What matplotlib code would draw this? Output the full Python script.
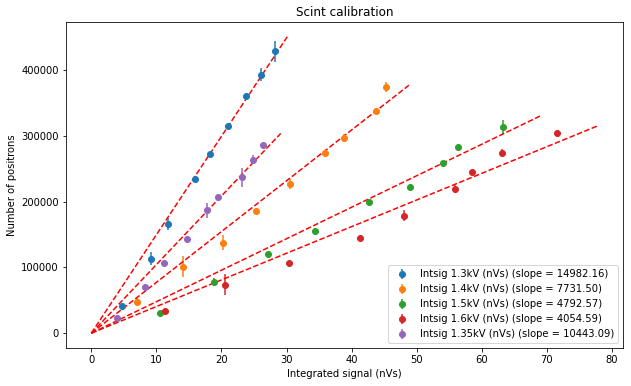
import numpy as np
import matplotlib
matplotlib.use('Agg')
import matplotlib.pyplot as plt

labels = ['Intsig 1.3kV (nVs)', 'Intsig 1.4kV (nVs)', 'Intsig 1.5kV (nVs)',
          'Intsig 1.6kV (nVs)', 'Intsig 1.35kV (nVs)']
slopes = [14982.16, 7731.50, 4792.57, 4054.59, 10443.09]
fit_xmax = [30.1, 48.8, 69.0, 77.8, 29.1]

x_13 = [4.77, 9.1, 11.85, 15.9, 18.25, 21.0, 23.7, 26.0, 28.2]
y_13 = [41800, 113000, 166000, 235000, 272700, 315600, 361000, 393000, 429000]
e_13 = [3000, 10000, 9000, 3000, 3000, 3000, 3000, 10000, 15700]

x_14 = [7.0, 14.05, 20.2, 25.3, 30.6, 35.9, 38.8, 43.7, 45.2]
y_14 = [47900, 101000, 137900, 185300, 227000, 274000, 297000, 338000, 374700]
e_14 = [6000, 15700, 12000, 3000, 7500, 3000, 6000, 4500, 7000]

x_15 = [10.6, 18.8, 27.2, 34.3, 42.6, 49.0, 54.1, 56.3, 63.3]
y_15 = [31200, 78000, 120600, 155500, 200000, 223000, 259500, 284000, 314000]
e_15 = [3000, 6000, 3000, 3000, 3000, 3000, 3000, 3000, 10600]

x_16 = [11.3, 20.5, 30.3, 41.3, 48.0, 55.9, 58.5, 63.1, 71.5]
y_16 = [33800, 74000, 107500, 145500, 179000, 219700, 245500, 274000, 305000]
e_16 = [3000, 15700, 3000, 3000, 9000, 6000, 3000, 6000, 4500]

x_135 = [3.95, 8.3, 11.2, 14.7, 17.8, 19.5, 23.2, 24.8, 26.4]
y_135 = [23600, 70000, 106500, 144000, 186800, 206500, 237000, 264000, 286800]
e_135 = [3000, 3000, 3000, 3000, 11000, 3000, 15000, 7000, 3000]

xs = [x_13, x_14, x_15, x_16, x_135]
ys = [y_13, y_14, y_15, y_16, y_135]
es = [e_13, e_14, e_15, e_16, e_135]

fig = plt.figure(figsize=(631 / 72, 386 / 72), dpi=72)
ax = fig.add_axes([66 / 631, 38 / 386, 557 / 631, 326 / 386])

for x, y, e, lab, m, xm in zip(xs, ys, es, labels, slopes, fit_xmax):
    ax.errorbar(x, y, yerr=e, fmt='o', label='%s (slope = %.2f)' % (lab, m))
    xx = np.linspace(0, xm, 100)
    ax.plot(xx, m * xx, 'r--')

ax.set_title('Scint calibration')
ax.set_xlabel('Integrated signal (nVs)')
ax.set_ylabel('Number of positrons')
ax.legend(loc='lower right')
fig.savefig('out.png', dpi=72)
